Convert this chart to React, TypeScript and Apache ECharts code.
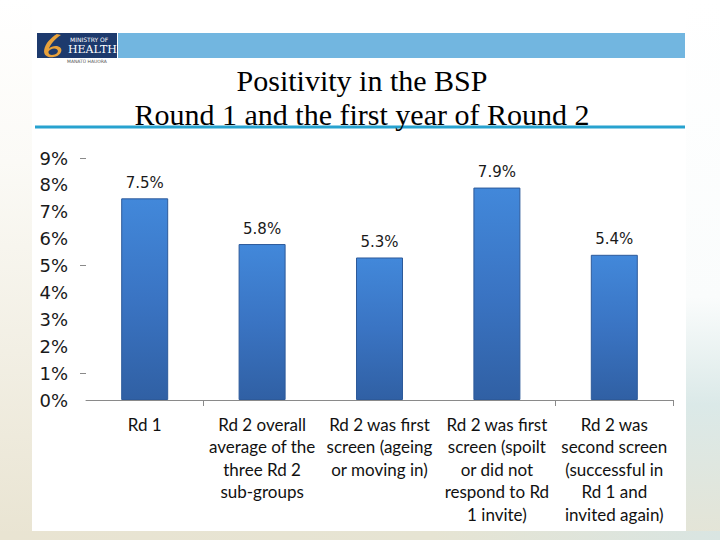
import React, { useEffect, useRef } from "react";
import * as echarts from "echarts";

const categories: string[] = [
  "Rd 1",
  "Rd 2 overall\naverage of the\nthree Rd 2\nsub-groups",
  "Rd 2 was first\nscreen (ageing\nor moving in)",
  "Rd 2 was first\nscreen (spoilt\nor did not\nrespond to Rd\n1 invite)",
  "Rd 2 was\nsecond screen\n(successful in\nRd 1 and\ninvited again)",
];
const positivity: number[] = [7.5, 5.8, 5.3, 7.9, 5.4];
const titleLines: string[] = ["Positivity in the BSP", "Round 1 and the first year of Round 2"];
const yTickValues: number[] = [1, 5, 9];
const xTickCategories: number[] = [1, 4];

let shapeRegistered = false;
function registerLogo() {
  if (shapeRegistered) return;
  shapeRegistered = true;
  echarts.graphic.registerShape(
    "mohSwirl",
    echarts.graphic.extendPath(
      "M16 0 L20 1 C14 5 10 10 8.5 14 C11 11 17 10.5 19.5 13 C22 16 19 21 13 22 C7 23 3 20 4 15 C5 9 10 4 16 0 Z M8 17 C8 20 11 20.5 14 19.5 C17 18.5 18 16 16 14.5 C13.5 13 9 14.5 8 17 Z",
      {}
    ) as any
  );
}

export default function App() {
  const ref = useRef<HTMLDivElement>(null);
  useEffect(() => {
    if (!ref.current) return;
    registerLogo();
    const chart = echarts.init(ref.current, undefined, { renderer: "svg" });
    chart.setOption({
      animation: false,
      backgroundColor: "#ffffff",
      title: {
        text: titleLines.join("\n"),
        left: 362,
        textAlign: "center",
        top: 63,
        padding: 0,
        textStyle: {
          fontFamily: "Liberation Serif",
          fontWeight: "normal",
          fontSize: 30,
          lineHeight: 34,
          color: "#000",
        },
      },
      graphic: [
        {
          type: "rect",
          z: -10,
          silent: true,
          shape: { x: 0, y: 0, width: 32, height: 540 },
          style: {
            fill: new echarts.graphic.LinearGradient(0, 0, 0, 1, [
              { offset: 0, color: "#ffffff" },
              { offset: 0.3, color: "#fbfaf6" },
              { offset: 1, color: "#e9e4d2" },
            ]),
          },
        },
        {
          type: "rect",
          z: -10,
          silent: true,
          shape: { x: 686, y: 0, width: 34, height: 540 },
          style: {
            fill: new echarts.graphic.LinearGradient(0, 0, 0, 1, [
              { offset: 0, color: "#ffffff" },
              { offset: 0.55, color: "#fafcfc" },
              { offset: 0.75, color: "#dbe9e8" },
              { offset: 1, color: "#e4e4d6" },
            ]),
          },
        },
        {
          type: "rect",
          z: -10,
          silent: true,
          shape: { x: 0, y: 531, width: 720, height: 9 },
          style: {
            fill: new echarts.graphic.LinearGradient(0, 0, 1, 0, [
              { offset: 0, color: "#e9e4d2" },
              { offset: 0.6, color: "#e6e4d3" },
              { offset: 1, color: "#d9e5e2" },
            ]),
          },
        },
        {
          type: "rect",
          silent: true,
          shape: { x: 118, y: 33, width: 567, height: 25 },
          style: { fill: "#72b6e0" },
        },
        {
          type: "rect",
          silent: true,
          shape: { x: 37, y: 33, width: 80, height: 25 },
          style: { fill: "#1d3a6d" },
        },
        {
          type: "mohSwirl",
          silent: true,
          x: 40,
          y: 34,
          scaleX: 1.05,
          scaleY: 1.05,
          style: { fill: "#e9a23b" },
        },
        {
          type: "text",
          silent: true,
          x: 70,
          y: 36,
          style: { text: "MINISTRY OF", fill: "#ffffff", font: "6px 'DejaVu Sans'" },
        },
        {
          type: "text",
          silent: true,
          x: 68,
          y: 44,
          style: { text: "HEALTH", fill: "#ffffff", font: "11px 'DejaVu Serif'" },
        },
        {
          type: "text",
          silent: true,
          x: 67,
          y: 59,
          style: { text: "MANATŪ HAUORA", fill: "#555555", font: "4.5px 'DejaVu Sans'" },
        },
        {
          type: "rect",
          silent: true,
          shape: { x: 35, y: 125.5, width: 650, height: 3 },
          style: { fill: "#27a2cf" },
        },
      ],
      grid: { left: 86, right: 47, top: 158, bottom: 140, containLabel: false },
      xAxis: {
        type: "category",
        data: categories,
        axisLine: { show: true, lineStyle: { color: "#8a8a8a", width: 1 } },
        axisTick: {
          show: true,
          length: 6,
          alignWithLabel: false,
          customValues: xTickCategories,
          lineStyle: { color: "#8a8a8a" },
        },
        axisLabel: {
          interval: 0,
          margin: 13,
          fontFamily: "Lato",
          fontSize: 17,
          lineHeight: 22.5,
          color: "#111",
          align: "center",
        },
      },
      yAxis: {
        type: "value",
        min: 0,
        max: 9,
        interval: 1,
        axisLine: { show: false },
        splitLine: { show: false },
        axisTick: {
          show: true,
          length: 6,
          customValues: yTickValues,
          lineStyle: { color: "#8a8a8a" },
        },
        axisLabel: {
          formatter: "{value}%",
          margin: 18,
          fontFamily: "DejaVu Sans",
          fontSize: 18,
          color: "#1a1a1a",
        },
      },
      series: [
        {
          type: "bar",
          data: positivity,
          barWidth: 47,
          itemStyle: {
            color: new echarts.graphic.LinearGradient(0, 0, 0, 1, [
              { offset: 0, color: "#4288da" },
              { offset: 0.5, color: "#3a74c3" },
              { offset: 1, color: "#3060a4" },
            ]),
            borderColor: "#2d5a9a",
            borderWidth: 1,
          },
          label: {
            show: true,
            position: "top",
            distance: 8,
            formatter: "{c}%",
            fontFamily: "DejaVu Sans",
            fontSize: 15,
            color: "#1a1a1a",
          },
        },
      ],
    });
    return () => chart.dispose();
  }, []);
  return (
    <div
      ref={ref}
      style={{ position: "fixed", left: 0, top: 0, width: 720, height: 540 }}
    />
  );
}
